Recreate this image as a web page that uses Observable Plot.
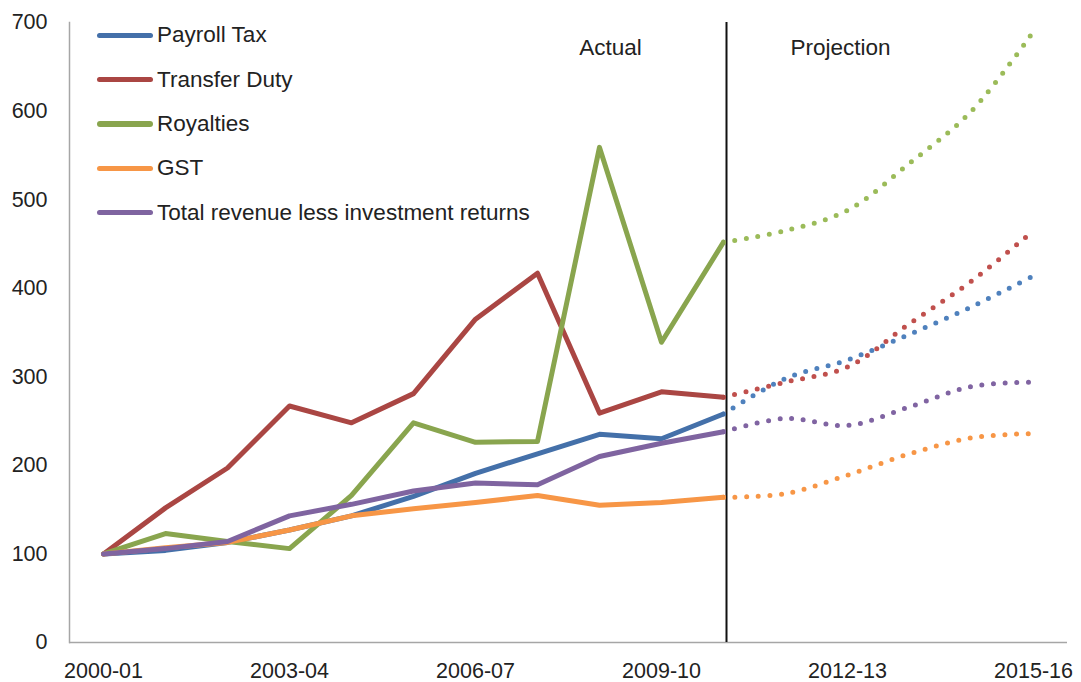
<!DOCTYPE html>
<html>
<head>
<meta charset="utf-8">
<script src="https://cdn.jsdelivr.net/npm/d3@7"></script>
<script src="https://cdn.jsdelivr.net/npm/@observablehq/plot@0.6"></script>
<style>
  html, body { margin: 0; padding: 0; background: #fff; }
  #wrap { position: relative; width: 1081px; height: 682px; font-family: "Liberation Sans", Arial, sans-serif; color: #222; }
  #legend { position: absolute; left: 97px; top: 13px; }
  .row { display: flex; align-items: center; height: 44.4px; font-size: 22.5px; }
  .sw { width: 56px; height: 5.3px; border-radius: 3px; margin-right: 4px; }
</style>
</head>
<body>
<div id="wrap"><div id="legend"></div></div>
<script>
const categories = ["2000-01","2001-02","2002-03","2003-04","2004-05","2005-06","2006-07","2007-08",
  "2008-09","2009-10","2010-11","2011-12","2012-13","2013-14","2014-15","2015-16"];
const xTickLabels = ["2000-01","2003-04","2006-07","2009-10","2012-13","2015-16"];
const yTicks = [0, 100, 200, 300, 400, 500, 600, 700];
const actualYears = categories.slice(0, 11);      // 2000-01 .. 2010-11
const projectionYears = categories.slice(10);     // 2010-11 .. 2015-16
const dividerYear = "2010-11";

const seriesNames = ["Payroll Tax", "Transfer Duty", "Royalties", "GST", "Total revenue less investment returns"];

// Index values (2000-01 = 100)
const payrollActual   = [100, 104, 113, 127, 143, 165, 191, 213, 235, 230, 258];
const transferActual  = [100, 152, 197, 267, 248, 281, 365, 417, 259, 283, 277];
const royaltiesActual = [100, 123, 114, 106, 166, 248, 226, 227, 559, 339, 452];
const gstActual       = [100, 107, 113, 127, 143, 151, 158, 166, 155, 158, 164];
const totalActual     = [100, 106, 114, 143, 156, 171, 180, 178, 210, 225, 238];

const payrollProj   = [258, 298, 319, 348, 379, 414];
const transferProj  = [277, 294, 311, 360, 408, 465];
const royaltiesProj = [452, 465, 488, 541, 600, 690];
const gstProj       = [164, 168, 189, 213, 231, 236];
const totalProj     = [238, 253, 245, 266, 289, 294];

const solidColors = ["#4470A9", "#AA4643", "#89A54E", "#F79646", "#7F64A0"];
const dotColors   = ["#4F81BD", "#C0504D", "#9BBB59", "#F79646", "#8064A2"];

const actualSets = [payrollActual, transferActual, royaltiesActual, gstActual, totalActual];
const projSets = [payrollProj, transferProj, royaltiesProj, gstProj, totalProj];

const toRows = (years, vals) => years.map((year, i) => ({year, value: vals[i]}));

const marks = [
  Plot.ruleY([0], {stroke: "#A6A6A6", strokeWidth: 1.5}),
  Plot.frame({anchor: "left", stroke: "#A6A6A6", strokeWidth: 1.5}),
  Plot.ruleX([dividerYear], {stroke: "#111", strokeWidth: 2, dx: 3}),
  Plot.text(["Actual"], {x: () => dividerYear, frameAnchor: "top", dy: 25, dx: -113, fontSize: 22.5, fill: "#222", textAnchor: "middle", lineAnchor: "middle"}),
  Plot.text(["Projection"], {x: () => dividerYear, frameAnchor: "top", dy: 25, dx: 117, fontSize: 22.5, fill: "#222", textAnchor: "middle", lineAnchor: "middle"})
];

seriesNames.forEach((name, i) => {
  marks.push(Plot.line(toRows(projectionYears, projSets[i]), {
    x: "year", y: "value", stroke: dotColors[i], strokeWidth: 5,
    strokeDasharray: "0 11.6", strokeLinecap: "round", curve: "catmull-rom"
  }));
});
seriesNames.forEach((name, i) => {
  marks.push(Plot.line(toRows(actualYears, actualSets[i]), {
    x: "year", y: "value", stroke: solidColors[i], strokeWidth: 5,
    strokeLinejoin: "round", strokeLinecap: "round"
  }));
});

const chart = Plot.plot({
  width: 1081,
  height: 682,
  marginTop: 22,
  marginBottom: 40,
  marginLeft: 69,
  marginRight: 14,
  style: {fontFamily: "'Liberation Sans', Arial, sans-serif", fontSize: "21.5px", color: "#222", background: "transparent", overflow: "visible"},
  x: {type: "point", domain: categories, padding: 0.48, ticks: xTickLabels, tickSize: 0, tickPadding: 20, label: null},
  y: {domain: [0, 700], ticks: yTicks, tickSize: 0, tickPadding: 22, label: null},
  marks
});

const wrap = document.getElementById("wrap");
wrap.insertBefore(chart, wrap.firstChild);

const legend = document.getElementById("legend");
seriesNames.forEach((name, i) => {
  const row = document.createElement("div");
  row.className = "row";
  const sw = document.createElement("span");
  sw.className = "sw";
  sw.style.background = solidColors[i];
  const label = document.createElement("span");
  label.textContent = name;
  row.appendChild(sw);
  row.appendChild(label);
  legend.appendChild(row);
});
</script>
</body>
</html>
